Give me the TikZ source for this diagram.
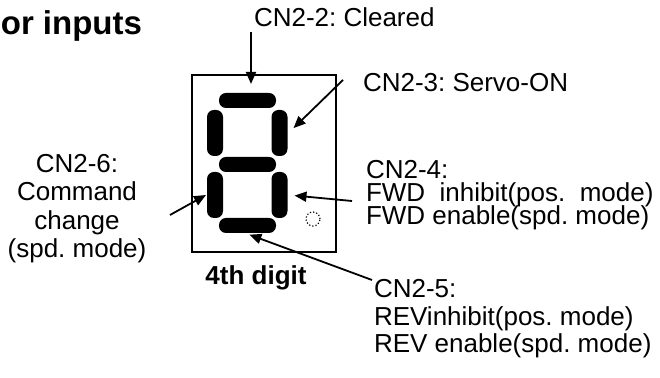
\documentclass[tikz,border=0pt]{standalone}
\usepackage{fontspec}
\setmainfont{Liberation Sans}
\usetikzlibrary{arrows.meta}
\frenchspacing

\begin{document}
\begin{tikzpicture}[x=0.5pt, y=-0.5pt, line width=1pt,
  lbl/.style={inner sep=0pt, font=\fontsize{13}{14}\selectfont, align=left},
  hseg/.style={fill=black, rounded corners=3.5pt, minimum width=28.5pt, minimum height=7.5pt, inner sep=0pt},
  vseg/.style={fill=black, rounded corners=3.5pt, minimum width=8pt, minimum height=23pt, inner sep=0pt},
  arr/.style={-{Triangle[length=6pt,width=5pt]}, line width=0.9pt}]
  \useasboundingbox (0,0) rectangle (660,378);

  % title (cut at the left edge)
  \node[inner sep=0pt, anchor=base east, font=\bfseries\fontsize{16.5}{18}\selectfont]
    (title) at (143,35) {or inputs};

  % the digit
  \node[draw, minimum width=72pt, minimum height=88.5pt, inner sep=0pt] (digit) at (264,163.5) {};
  \node[hseg] (sa) at (247.5,100.5) {};
  \node[vseg] (sb) at (279.5,133) {};
  \node[vseg] (sc) at (279.5,195) {};
  \node[hseg] (sd) at (247.5,225.5) {};
  \node[vseg] (se) at (215,195) {};
  \node[vseg] (sf) at (215,133) {};
  \node[hseg] (sg) at (247.5,164.5) {};
  \node[circle, draw, line width=0.6pt, dash pattern=on 0.6pt off 1pt, minimum size=7pt, inner sep=0pt]
    (dp) at (313,219) {};
  \node[inner sep=0pt, anchor=base, font=\bfseries\fontsize{13}{14}\selectfont]
    (caption) at (256,285) {4th digit};

  % labels (multi-line ones are placed by the base line of their last line)
  \node[lbl, anchor=base west] (lblA) at (253,27) {CN2-2: Cleared};
  \node[lbl, anchor=base west] (lblB) at (362,92) {CN2-3: Servo-ON};
  \node[lbl, anchor=base west, font={\fontsize{13}{11.6}\selectfont\lineskiplimit=-10pt}] (lblC) at (365,225)
    {CN2-4:\\FWD\ \ inhibit(pos.\ \ mode)\\FWD enable(spd. mode)};
  \node[lbl, anchor=base west, font=\fontsize{13}{13.75}\selectfont] (lblD) at (373,353)
    {CN2-5:\\REVinhibit(pos. mode)\\REV enable(spd. mode)};
  \node[lbl, anchor=base, align=center, font=\fontsize{13}{14.25}\selectfont] (lblE) at (77,258)
    {CN2-6:\\Command\\change\\(spd. mode)};

  % pointers
  \coordinate (tA) at (251,32);
  \coordinate (tB) at (343,80);
  \coordinate (tC) at (352,201);
  \coordinate (tD) at (372,280);
  \coordinate (tE) at (170,215);
  \draw[arr, shorten >=4pt] (tA) -- (tA |- sa.north);
  \draw[arr, shorten >=3.5pt] (tB) -- (sb.east);
  \draw[arr, shorten >=3pt] (tC) -- (sc.east);
  \draw[arr, shorten >=1pt] (tD) -- (sd.south);
  \draw[arr] (tE) -- (se.west);
\end{tikzpicture}
\end{document}
